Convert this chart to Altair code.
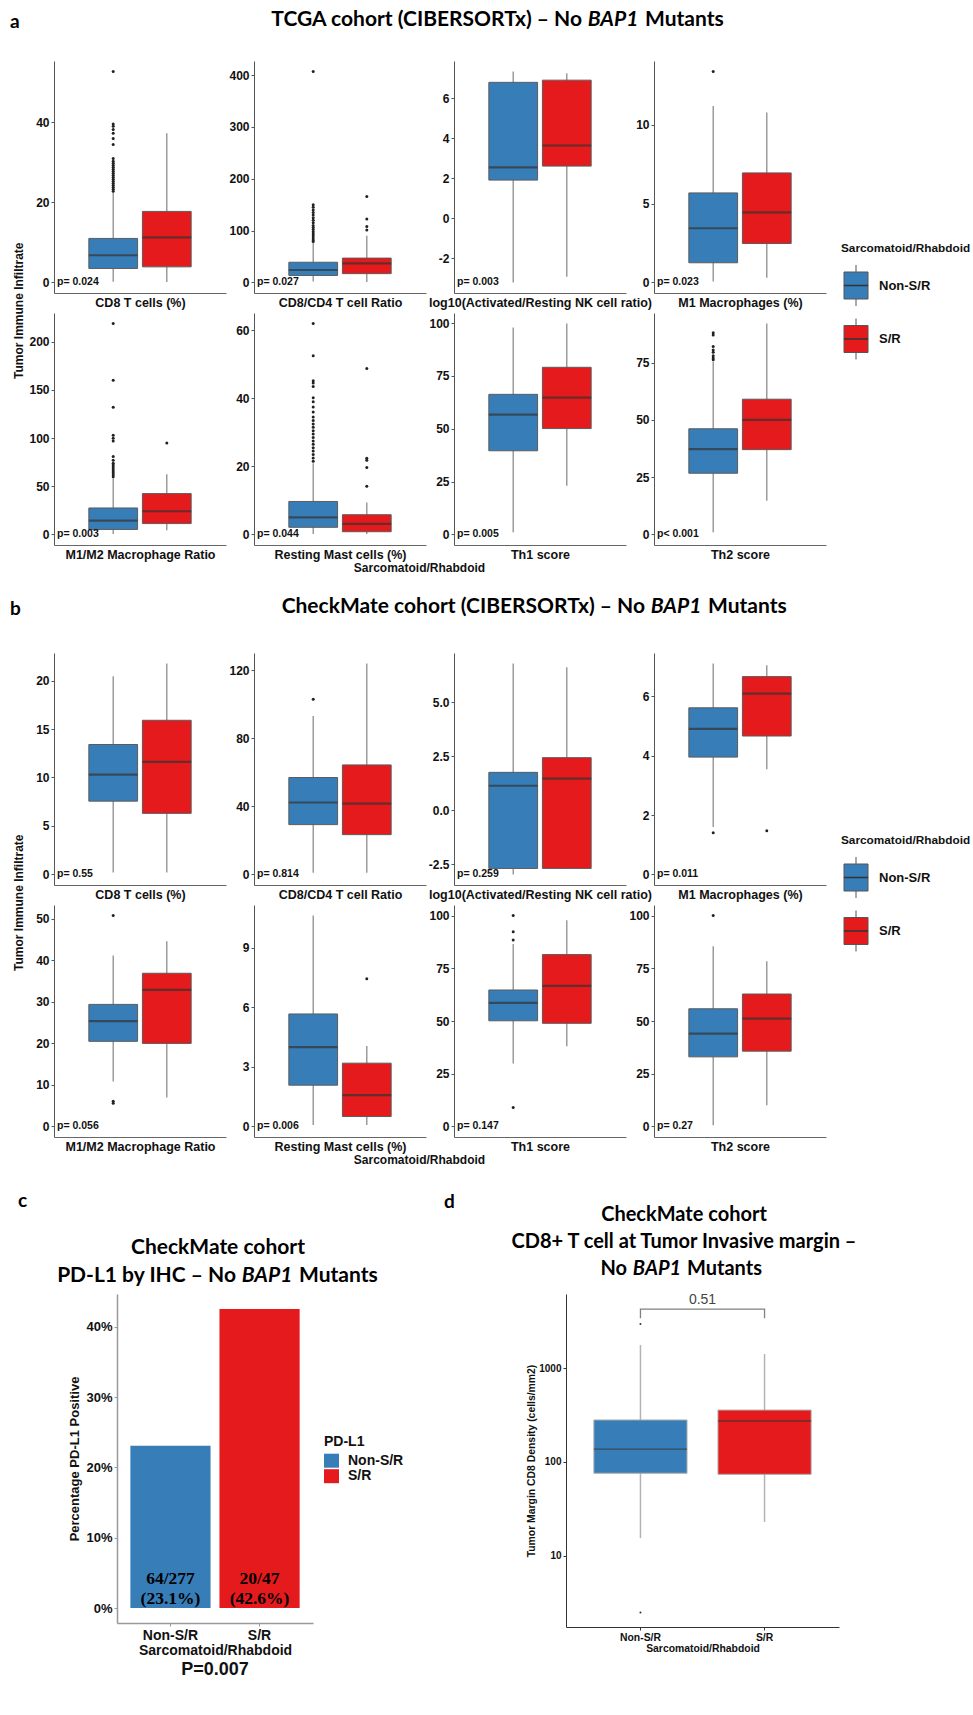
import altair as alt
import pandas as pd

groups = ["Non-S/R", "S/R"]
group_colors = ["#377EB8", "#E41A1C"]

# ---------------- TCGA cohort (CIBERSORTx) ----------------
tcga_metrics = ["CD8 T cells (%)", "CD8/CD4 T cell Ratio", "log10(Activated/Resting NK cell ratio)",
                "M1 Macrophages (%)", "M1/M2 Macrophage Ratio", "Resting Mast cells (%)",
                "Th1 score", "Th2 score"]
tcga_pvals = ["p= 0.024", "p= 0.027", "p= 0.003", "p= 0.023", "p= 0.003", "p= 0.044", "p= 0.005", "p< 0.001"]
tcga_ticks = [[0, 20, 40], [0, 100, 200, 300, 400], [-2, 0, 2, 4, 6], [0, 5, 10],
              [0, 50, 100, 150, 200], [0, 20, 40, 60], [0, 25, 50, 75, 100], [0, 25, 50, 75]]
tcga_formats = ["d", "d", "d", "d", "d", "d", "d", "d"]
# box statistics: lower whisker, Q1, median, Q3, upper whisker
tcga_nonsr = [[0.2, 3.5, 6.8, 11.0, 22.5], [2, 13.5, 24, 39, 77], [-3.22, 1.9, 2.54, 6.79, 7.33],
              [0.06, 1.25, 3.44, 5.68, 11.2], [0.6, 5.2, 14.4, 27.5, 58.4], [0.1, 2.1, 5.0, 9.7, 20.9],
              [1.1, 39.6, 56.7, 66.3, 97.9], [1.0, 26.7, 37.2, 46.1, 75.3]]
tcga_sr = [[0.1, 3.9, 11.25, 17.75, 37.3], [1, 17, 37, 47, 90], [-2.94, 2.6, 3.63, 6.9, 7.24],
           [0.3, 2.47, 4.44, 6.95, 10.78], [4.4, 11.3, 24.1, 42.4, 62.5], [0.1, 0.8, 3.1, 5.8, 9.4],
           [23.0, 50.1, 64.7, 79.1, 99.8], [14.7, 37, 50, 59, 92]]
tcga_nonsr_out = [
    [22.8, 23.3, 23.8, 24.3, 24.8, 25.3, 25.8, 26.3, 26.8, 27.3, 27.8, 28.3, 28.8, 29.3, 29.8, 30.3,
     31.0, 34.5, 36.0, 37.3, 38.2, 39.0, 39.6, 52.7],
    [79, 82, 86, 90, 94, 98, 102, 106, 110, 115, 120, 125, 130, 135, 140, 145, 150, 407],
    [],
    [13.38],
    [60, 62, 64, 66, 68, 70, 72, 74, 77, 81, 97, 100, 103, 132, 160, 219],
    [21.5, 22.5, 23.5, 24.5, 25.5, 26.5, 27.5, 28.5, 29.5, 30.5, 31.5, 32.5, 33.5, 34.5, 36, 37.5,
     39, 40.2, 43.5, 44.5, 45.2, 52.5, 62],
    [],
    [76.2, 77, 78, 79.5, 80.5, 82, 87, 88]]
tcga_sr_out = [[], [101, 108, 122.5, 166], [], [], [95], [14.2, 19.7, 21.8, 22.4, 48.8], [], []]

# ---------------- CheckMate cohort (CIBERSORTx) ----------------
cm_metrics = tcga_metrics
cm_pvals = ["p= 0.55", "p= 0.814", "p= 0.259", "p= 0.011", "p= 0.056", "p= 0.006", "p= 0.147", "p= 0.27"]
cm_ticks = [[0, 5, 10, 15, 20], [0, 40, 80, 120], [-2.5, 0, 2.5, 5], [0, 2, 4, 6],
            [0, 10, 20, 30, 40, 50], [0, 3, 6, 9], [0, 25, 50, 75, 100], [0, 25, 50, 75, 100]]
cm_formats = ["d", "d", ".1f", "d", "d", "d", "d", "d"]
cm_nonsr = [[0.2, 7.56, 10.3, 13.4, 20.45], [1, 29.3, 42.3, 57, 93.1], [-2.98, -2.7, 1.13, 1.75, 6.79],
            [1.6, 3.95, 4.9, 5.61, 7.1], [10.8, 20.5, 25.35, 29.4, 41.2], [0.07, 2.08, 4.0, 5.67, 10.63],
            [29.9, 50.1, 58.6, 64.7, 86.5], [0.6, 33, 44.0, 55.8, 85.5]]
cm_sr = [[0.2, 6.3, 11.6, 15.9, 21.75], [1, 23.4, 41.7, 64.4, 124], [-2.72, -2.7, 1.46, 2.43, 6.62],
         [3.54, 4.66, 6.09, 6.66, 7.04], [7.0, 20, 32.9, 36.9, 44.6], [0.07, 0.5, 1.58, 3.19, 4.06],
         [38, 48.9, 66.7, 81.5, 97.8], [10.0, 35.7, 51.1, 62.8, 78.3]]
cm_nonsr_out = [[], [103], [], [1.4], [5.6, 6.1, 50.8], [], [9.0, 88.4, 92.3, 100], [100]]
cm_sr_out = [[], [], [], [1.47], [], [7.45], [], []]

# ---------------- PD-L1 by IHC ----------------
pdl1_positive = [64, 20]
pdl1_total = [277, 47]
pdl1_pvalue = "P=0.007"

# ---------------- CD8+ density at the invasive margin ----------------
margin_nonsr = [15.5, 76, 137, 280, 1760]
margin_sr = [23, 74, 273, 357, 1410]
margin_nonsr_out = [2.5, 2950]
margin_sr_out = []
margin_pvalue = "0.51"
margin_domain = [1.75, 6150]
bracket_level, bracket_tip = 4250, 3400

AX_FONT = "Liberation Sans"
HEAD_FONT = "Lato"
INK = "#111111"
PANEL_W, PANEL_H = 172, 232
PAD_IN, PAD_OUT = 0.09, 0.65
BOX_W = PANEL_W / (2 - PAD_IN + 2 * PAD_OUT) * (1 - PAD_IN)

color_enc = alt.Color("group:N", scale=alt.Scale(domain=groups, range=group_colors), legend=None)
one_row = alt.Data(values=[{}])


def label_layer(txt, x, y, size, style="normal", align="center", font=HEAD_FONT, weight="bold", color="#000"):
    return alt.Chart(one_row).mark_text(
        text=txt, align=align, baseline="middle", font=font, fontWeight=weight,
        fontStyle=style, fontSize=size, color=color).encode(x=alt.value(x), y=alt.value(y))


def spacer(w, h):
    return alt.Chart(one_row).mark_text(text="").encode(
        x=alt.value(0), y=alt.value(0)).properties(width=w, height=h)


def stats_frame(non, sr):
    keys = ["low", "q1", "med", "q3", "high"]
    d = {"group": groups}
    for k, key in enumerate(keys):
        d[key] = [non[k], sr[k]]
    return pd.DataFrame(d)


def outlier_frame(non_out, sr_out):
    return pd.DataFrame({"group": [groups[0]] * len(non_out) + [groups[1]] * len(sr_out),
                         "value": list(non_out) + list(sr_out)})


def box_panel(metric, ptxt, ticks, fmt, non, sr, non_out, sr_out):
    stats = stats_frame(non, sr)
    outs = outlier_frame(non_out, sr_out)
    allv = list(non) + list(sr) + list(non_out) + list(sr_out) + [0]
    lo, hi = min(allv), max(allv)
    pad = 0.05 * (hi - lo)
    yscale = alt.Scale(domain=[lo - pad, hi + pad], nice=False, zero=False)
    yaxis = alt.Axis(title=None, values=ticks, format=fmt,
                     labelExpr="replace(datum.label, '\u2212', '-')",
                     grid=False, domainColor="#555", tickColor="#555", tickSize=3, labelPadding=2,
                     labelFont=AX_FONT, labelFontWeight="bold", labelFontSize=12, labelColor=INK,
                     minExtent=26)
    xenc = alt.X("group:N", scale=alt.Scale(domain=groups, paddingInner=PAD_IN, paddingOuter=PAD_OUT),
                 axis=alt.Axis(title=metric, labels=False, ticks=False, domainColor="#666",
                               titleFont=AX_FONT, titleFontWeight="bold", titleFontSize=12.5,
                               titleColor=INK, titlePadding=3))

    def Y(f):
        return alt.Y(f, type="quantitative", scale=yscale, axis=yaxis)

    base = alt.Chart(stats)
    whisk = base.mark_rule(color="#8c8c8c", strokeWidth=1.3).encode(x=xenc, y=Y("low"), y2="high")
    box = base.mark_bar(stroke="#5c5c5c", strokeWidth=1).encode(x=xenc, y=Y("q1"), y2="q3", color=color_enc)
    med = base.mark_tick(color="#333333", thickness=2.2, size=BOX_W).encode(x=xenc, y=Y("med"))
    dots = alt.Chart(outs).mark_circle(size=9, color="#222222", opacity=1).encode(x=xenc, y=Y("value"))
    ptext = alt.Chart(alt.Data(values=[{"p": ptxt}])).mark_text(
        align="left", baseline="middle", font=AX_FONT, fontWeight="bold", fontSize=10.5, color=INK
    ).encode(x=alt.value(3), y=alt.datum(lo), text="p:N")
    return alt.layer(whisk, box, med, dots, ptext).properties(width=PANEL_W, height=PANEL_H)


def group_key(title):
    layers = [label_layer(title, -3, 187, 11.8, align="left", font=AX_FONT, color=INK)]
    for i, g in enumerate(groups):
        c = 224.5 + i * 53.5
        row = alt.Chart(alt.Data(values=[{"group": g}]))
        layers.append(row.mark_rule(color="#555", strokeWidth=1).encode(
            x=alt.value(12), y=alt.value(c - 20.5), y2=alt.value(c + 20.5)))
        layers.append(row.mark_bar(stroke="#555", strokeWidth=1).encode(
            x=alt.value(0), x2=alt.value(24), y=alt.value(c - 13.5), y2=alt.value(c + 13.5), color=color_enc))
        layers.append(row.mark_rule(color="#333", strokeWidth=1.5).encode(
            x=alt.value(0), x2=alt.value(24), y=alt.value(c)))
        layers.append(label_layer(g, 35, c, 13, align="left", font=AX_FONT, color=INK))
    return alt.layer(*layers).properties(width=30, height=300)


def box_grid(metrics, pvals, ticks, fmts, non, sr, non_out, sr_out):
    panels = [box_panel(metrics[k], pvals[k], ticks[k], fmts[k], non[k], sr[k], non_out[k], sr_out[k])
              for k in range(8)]
    # plot areas on a fixed pitch, independent of tick-label widths
    row1 = alt.hconcat(*panels[:4], spacing=28, bounds="flush")
    row2 = alt.hconcat(*panels[4:], spacing=28, bounds="flush")
    inner = alt.vconcat(row1, row2, spacing=4, title=alt.TitleParams(
        "Tumor Immune Infiltrate", orient="left", anchor="middle", font=AX_FONT, fontWeight="bold",
        fontSize=12, color=INK, offset=2))
    outer = alt.vconcat(inner, title=alt.TitleParams(
        "Sarcomatoid/Rhabdoid", orient="bottom", anchor="middle", font=AX_FONT, fontWeight="bold",
        fontSize=12, color=INK, offset=2))
    return alt.hconcat(spacer(12, 10), outer, spacer(15, 10), group_key("Sarcomatoid/Rhabdoid"), spacing=0)


def header(letter, prefix, suffix, bap_x, y, width, height):
    return alt.layer(
        label_layer(letter, 10, y + 2, 19, align="left"),
        label_layer(prefix, bap_x - 31, y, 21, align="right"),
        label_layer("BAP1", bap_x, y, 21, style="italic"),
        label_layer(suffix, bap_x + 32, y, 21, align="left"),
    ).properties(width=width, height=height)


head_a = header("a", "TCGA cohort (CIBERSORTx) \u2013 No", "Mutants", 613, 20, 900, 55)
sec_a = box_grid(tcga_metrics, tcga_pvals, tcga_ticks, tcga_formats, tcga_nonsr, tcga_sr,
                 tcga_nonsr_out, tcga_sr_out)
head_b = header("b", "CheckMate cohort (CIBERSORTx) \u2013 No", "Mutants", 676, 33, 900, 73)
sec_b = box_grid(cm_metrics, cm_pvals, cm_ticks, cm_formats, cm_nonsr, cm_sr, cm_nonsr_out, cm_sr_out)

# ---------------- panel c: PD-L1 positive fraction ----------------
pdl1 = pd.DataFrame({"group": groups, "pos": pdl1_positive, "tot": pdl1_total})
pdl1["pct"] = pdl1["pos"] / pdl1["tot"]
pdl1["line1"] = pdl1["pos"].astype(str) + "/" + pdl1["tot"].astype(str)
pdl1["line2"] = "(" + (pdl1["pct"] * 100).map("{:.1f}".format) + "%)"
cmax = pdl1["pct"].max()
C_W, C_H = 196, 329

c_x = alt.X("group:N", scale=alt.Scale(domain=groups, paddingInner=0.1, paddingOuter=0.15),
            axis=alt.Axis(title="Sarcomatoid/Rhabdoid", labelAngle=0, labelFont=AX_FONT, labelFontWeight="bold",
                          labelFontSize=14, labelColor=INK, titleFont=AX_FONT, titleFontWeight="bold",
                          titleFontSize=14, titleColor=INK, titlePadding=1, domainColor="#999",
                          domainWidth=1.5, tickColor="#999", tickSize=3, labelPadding=2))
c_y = alt.Y("pct:Q", scale=alt.Scale(domain=[-0.05 * cmax, 1.05 * cmax], nice=False, zero=False),
            axis=alt.Axis(title="Percentage PD-L1 Positive", values=[0, 0.1, 0.2, 0.3, 0.4], format=".0%",
                          grid=False, labelFont=AX_FONT, labelFontWeight="bold", labelFontSize=13,
                          labelColor=INK, titleFont=AX_FONT, titleFontWeight="bold", titleFontSize=13,
                          titleColor=INK, titlePadding=4, domainColor="#999", domainWidth=1.5,
                          tickColor="#999", tickSize=3, labelPadding=2))
c_base = alt.Chart(pdl1)
c_bars = c_base.mark_bar().encode(x=c_x, y=c_y, y2=alt.datum(0), color=color_enc)
c_l1 = c_base.mark_text(font="Liberation Serif", fontWeight="bold", fontSize=17.5, color="#000",
                        baseline="middle", dy=-29).encode(x=c_x, y=alt.datum(0), text="line1:N")
c_l2 = c_base.mark_text(font="Liberation Serif", fontWeight="bold", fontSize=17.5, color="#000",
                        baseline="middle", dy=-9).encode(x=c_x, y=alt.datum(0), text="line2:N")
c_layers = [c_bars, c_l1, c_l2,
            label_layer("c", -99, -93, 19, align="left"),
            label_layer("CheckMate cohort", 101, -46, 21),
            label_layer("PD-L1 by IHC \u2013 No", 119, -18, 21, align="right"),
            label_layer("BAP1", 150, -18, 21, style="italic"),
            label_layer("Mutants", 182, -18, 21, align="left"),
            label_layer("PD-L1", 207, 148, 14, align="left", font=AX_FONT, color=INK)]
for i, g in enumerate(groups):
    kt = 159.7 + i * 15.5
    c_layers.append(alt.Chart(alt.Data(values=[{"group": g}])).mark_bar().encode(
        x=alt.value(207), x2=alt.value(222), y=alt.value(kt), y2=alt.value(kt + 14), color=color_enc))
    c_layers.append(label_layer(g, 231, kt + 7, 14, align="left", font=AX_FONT, color=INK))
chart_c = alt.layer(*c_layers).properties(
    width=C_W, height=C_H,
    title=alt.TitleParams(pdl1_pvalue, orient="bottom", anchor="middle", frame="group", font=AX_FONT,
                          fontWeight="bold", fontSize=18, color=INK, offset=4))

# ---------------- panel d: CD8 density at invasive margin ----------------
D_W, D_H = 273, 333
D_PI, D_PO = 0.25, 0.225
D_BOX = D_W / (2 - D_PI + 2 * D_PO) * (1 - D_PI)
mstats = stats_frame(margin_nonsr, margin_sr)
mouts = outlier_frame(margin_nonsr_out, margin_sr_out)
d_x = alt.X("group:N", scale=alt.Scale(domain=groups, paddingInner=D_PI, paddingOuter=D_PO),
            axis=alt.Axis(title="Sarcomatoid/Rhabdoid", labelAngle=0, labelFont=AX_FONT, labelFontWeight="bold",
                          labelFontSize=10.4, labelColor=INK, titleFont=AX_FONT, titleFontWeight="bold",
                          titleFontSize=10.4, titleColor=INK, titlePadding=1, domainColor="#333",
                          tickColor="#333", tickSize=3, labelPadding=2))
d_yscale = alt.Scale(type="log", domain=margin_domain, nice=False)
d_yaxis = alt.Axis(title="Tumor Margin CD8 Density (cells/mm2)", values=[10, 100, 1000], format="d",
                   grid=False, labelFont=AX_FONT, labelFontWeight="bold", labelFontSize=10,
                   labelColor=INK, titleFont=AX_FONT, titleFontWeight="bold", titleFontSize=10.4,
                   titleColor=INK, titlePadding=2, domainColor="#333", tickColor="#333", tickSize=3,
                   labelPadding=2)


def DY(f):
    return alt.Y(f, type="quantitative", scale=d_yscale, axis=d_yaxis)


mbase = alt.Chart(mstats)
bracket = pd.DataFrame({"group": [groups[0], groups[0], groups[1], groups[1]],
                        "y": [bracket_tip, bracket_level, bracket_level, bracket_tip],
                        "o": [0, 1, 2, 3]})
d_layers = [
    mbase.mark_rule(color="#b3b3b3", strokeWidth=1.5).encode(x=d_x, y=DY("low"), y2="high"),
    mbase.mark_bar(stroke="#a6a6a6", strokeWidth=1).encode(x=d_x, y=DY("q1"), y2="q3", color=color_enc),
    mbase.mark_tick(color="#333333", thickness=1.4, size=D_BOX).encode(x=d_x, y=DY("med")),
    alt.Chart(mouts).mark_circle(size=4, color="#333", opacity=1).encode(x=d_x, y=DY("value")),
    alt.Chart(bracket).mark_line(color="#808080", strokeWidth=1.3).encode(x=d_x, y=DY("y"), order="o:Q"),
    alt.Chart(alt.Data(values=[{"p": margin_pvalue}])).mark_text(
        font=AX_FONT, fontSize=14, color="#444", baseline="bottom", dy=-2
    ).encode(x=alt.value(D_W / 2), y=alt.datum(bracket_level), text="p:N"),
    label_layer("d", -122, -92, 19, align="left"),
    label_layer("CheckMate cohort", 118, -79, 20),
    label_layer("CD8+ T cell at Tumor Invasive margin \u2013", 118, -52, 20),
    label_layer("No", 61, -25, 20, align="right"),
    label_layer("BAP1", 91, -25, 20, style="italic"),
    label_layer("Mutants", 121, -25, 20, align="left"),
]
chart_d = alt.layer(*d_layers).properties(width=D_W, height=D_H)

sec_cd = alt.hconcat(spacer(18, 10), chart_c, spacer(40, 10), chart_d, spacing=0)

chart = alt.concat(head_a, sec_a, head_b, sec_b, spacer(10, 20), sec_cd,
                   columns=1, align="none", spacing=0).properties(
    padding={"left": 0, "top": 0, "right": 0, "bottom": 0}, background="white"
).configure_view(stroke=None)

chart.save("out.html", embed_options={"renderer": "svg", "actions": False})
